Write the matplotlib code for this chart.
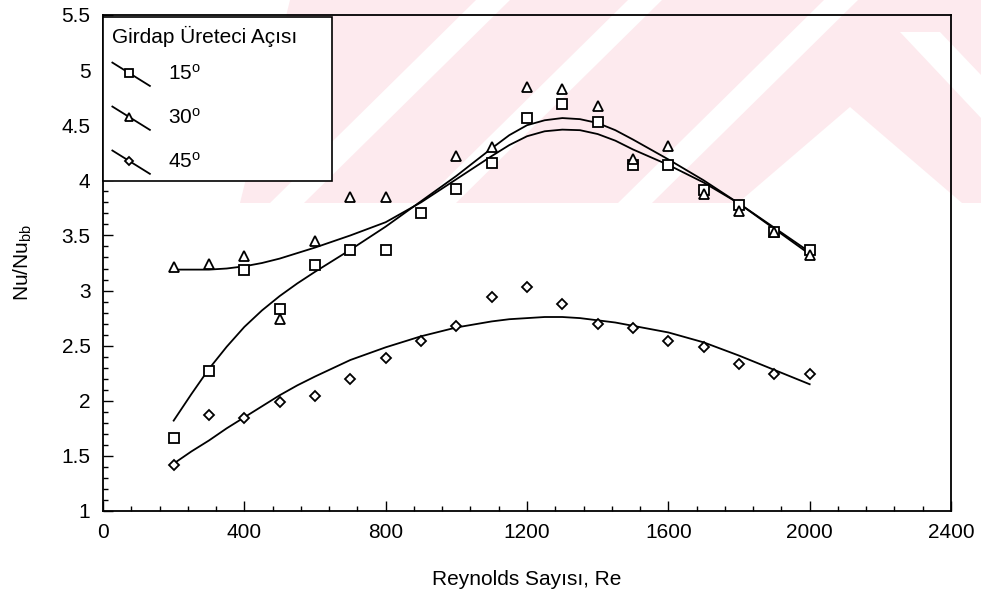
import matplotlib
matplotlib.use("Agg")
import matplotlib.pyplot as plt
from matplotlib.lines import Line2D
from matplotlib.patches import Polygon
from matplotlib.legend_handler import HandlerBase
from matplotlib.ticker import MultipleLocator, FuncFormatter

plt.rcParams['font.family'] = ['Liberation Sans', 'DejaVu Sans']
plt.rcParams['mathtext.fontset'] = 'custom'
plt.rcParams['mathtext.rm'] = 'Liberation Sans'
plt.rcParams['mathtext.it'] = 'Liberation Sans:italic'

re_all = [200, 300, 400, 500, 600, 700, 800, 900, 1000, 1100, 1200, 1300,
          1400, 1500, 1600, 1700, 1800, 1900, 2000]
nu_15 = [1.66, 2.27, 3.19, 2.83, 3.23, 3.37, 3.37, 3.70, 3.92, 4.16, 4.57, 4.69,
         4.53, 4.14, 4.14, 3.91, 3.78, 3.53, 3.37]
re_30 = [200, 300, 400, 500, 600, 700, 800, 1000, 1100, 1200, 1300,
         1400, 1500, 1600, 1700, 1800, 1900, 2000]
nu_30 = [3.21, 3.24, 3.31, 2.74, 3.45, 3.85, 3.85, 4.22, 4.30, 4.85, 4.83,
         4.67, 4.19, 4.31, 3.88, 3.72, 3.53, 3.32]
nu_45 = [1.42, 1.87, 1.84, 1.99, 2.04, 2.20, 2.39, 2.54, 2.68, 2.94, 3.03, 2.88,
         2.70, 2.66, 2.54, 2.49, 2.33, 2.24, 2.24]

# regression curves
fit_re = [200, 250, 300, 350, 400, 450, 500, 550, 600, 700, 800, 900, 1000, 1100,
          1150, 1200, 1250, 1300, 1350, 1400, 1450, 1500, 1600, 1700, 1800, 1900,
          2000]
fit_15 = [1.82, 2.06, 2.29, 2.49, 2.67, 2.82, 2.95, 3.065, 3.17, 3.37, 3.58,
          3.81, 4.04, 4.29, 4.41, 4.50, 4.545, 4.565, 4.555, 4.52, 4.455, 4.37,
          4.19, 4.00, 3.79, 3.57, 3.35]
fit_30 = [3.19, 3.19, 3.19, 3.20, 3.22, 3.25, 3.29, 3.34, 3.39, 3.50, 3.62,
          3.80, 4.01, 4.22, 4.32, 4.40, 4.445, 4.46, 4.455, 4.42, 4.36, 4.28,
          4.14, 3.98, 3.79, 3.56, 3.33]
fit_45 = [1.43, 1.54, 1.64, 1.75, 1.85, 1.95, 2.05, 2.14, 2.22, 2.37, 2.485,
          2.585, 2.665, 2.72, 2.74, 2.75, 2.76, 2.76, 2.75, 2.73, 2.71, 2.68,
          2.62, 2.53, 2.41, 2.28, 2.15]

labels = ['15$^{\\mathrm{o}}$', '30$^{\\mathrm{o}}$', '45$^{\\mathrm{o}}$']
W, H = 981, 596
FS = 15

fig = plt.figure(figsize=(W / 100, H / 100), dpi=100)
ax = fig.add_axes([103 / W, 1 - 511 / H, 848 / W, 496 / H])
ax.patch.set_facecolor('none')


# faint pink watermark behind the chart (pixel coords, top-left origin)
def px(pts):
    return [(x / W, 1 - y / H) for x, y in pts]


def wm(pts, color, z):
    fig.add_artist(Polygon(px(pts), closed=True, fc=color, ec='none',
                           zorder=z, transform=fig.transFigure))


pink = '#fdeaee'
wm([(290, 0), (981, 0), (981, 203), (240, 203)], pink, -3)
for c in [390, 542, 738]:
    wm([(c - 120, 203), (c - 86, 203), (c + 120, 0), (c + 86, 0)], 'white', -2)
wm([(850, 107), (962, 203), (738, 203)], 'white', -2)
wm([(900, 32), (940, 32), (981, 75), (981, 118)], 'white', -2)

lw = 1.3
ax.plot(fit_re, fit_15, color='black', lw=lw)
ax.plot(fit_re, fit_30, color='black', lw=lw)
ax.plot(fit_re, fit_45, color='black', lw=lw)

mk = dict(linestyle='none', mfc='white', mec='black', mew=1.3)
h15, = ax.plot(re_all, nu_15, marker='s', markersize=6.8, **mk)
h30, = ax.plot(re_30, nu_30, marker='^', markersize=6.8, **mk)
h45, = ax.plot(re_all, nu_45, marker='D', markersize=4.6, **mk)

ax.set_xlim(0, 2400)
ax.set_ylim(1, 5.5)
ax.xaxis.set_major_locator(MultipleLocator(400))
ax.xaxis.set_minor_locator(MultipleLocator(80))
ax.yaxis.set_major_locator(MultipleLocator(0.5))
ax.yaxis.set_minor_locator(MultipleLocator(0.1))
ax.yaxis.set_major_formatter(FuncFormatter(lambda v, p: '%g' % v))
ax.tick_params(which='both', direction='in', top=False, right=False,
               width=1.0, labelsize=FS)
ax.tick_params(which='major', length=7)
ax.tick_params(which='minor', length=3.5)
ax.tick_params(axis='x', pad=9)
ax.tick_params(axis='y', pad=9)
for s in ax.spines.values():
    s.set_linewidth(1.3)

ax.set_xlabel('Reynolds Sayısı, Re', fontsize=FS, labelpad=20)
ax.set_ylabel('Nu/Nu$_{\\mathrm{bb}}$', fontsize=FS, labelpad=20)


class SlantHandler(HandlerBase):
    def create_artists(self, legend, orig_handle, xdescent, ydescent,
                       width, height, fontsize, trans):
        x0, x1 = -xdescent, -xdescent + width
        y0, y1 = -ydescent + height * 1.2, -ydescent - height * 0.4
        line = Line2D([x0, x1], [y0, y1], color='black', lw=1.3)
        t = 0.45
        m = Line2D([x0 + t * (x1 - x0)], [y0 + t * (y1 - y0)],
                   marker=orig_handle.get_marker(),
                   markersize=orig_handle.get_markersize() * 0.9,
                   mfc='white', mec='black', mew=1.3, linestyle='none')
        line.set_transform(trans)
        m.set_transform(trans)
        return [line, m]


leg = ax.legend([h15, h30, h45], labels, title='Girdap Üreteci Açısı',
                loc='upper left', bbox_to_anchor=(0, 0, 229 / 848, 0.996),
                mode='expand', borderaxespad=0,
                fontsize=FS, title_fontsize=FS, fancybox=False,
                edgecolor='black', framealpha=1, handlelength=1.8,
                handletextpad=0.85, labelspacing=1.15, borderpad=0.45,
                alignment='left', handler_map={Line2D: SlantHandler()})
leg.get_frame().set_linewidth(1.2)
# tighter gap between the title and the first entry
leg._legend_box.sep = 0.8 * FS

fig.savefig('out.png', dpi=100)
